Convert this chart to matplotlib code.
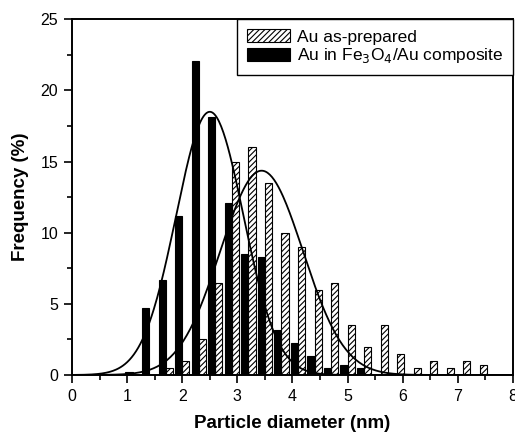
import numpy as np
import matplotlib.pyplot as plt
from matplotlib.ticker import MultipleLocator

plt.rcParams['font.family'] = ['Liberation Sans', 'DejaVu Sans']
plt.rcParams['hatch.linewidth'] = 0.8

# bin edges shared by both histograms (black bar sits left of it, hatched right)
bin_pos = [1.1, 1.4, 1.7, 2.0, 2.3, 2.6, 2.9, 3.2, 3.5, 3.8, 4.1,
           4.4, 4.7, 5.0, 5.3, 5.6, 5.9, 6.2, 6.5, 6.8, 7.1, 7.4]
freq_composite = [0.2, 4.7, 6.7, 11.2, 22.1, 18.1, 12.1, 8.5, 8.3, 3.15, 2.27,
                  1.36, 0.49, 0.68, 0.49, 0, 0, 0, 0, 0, 0, 0]
freq_prepared = [0, 0, 0.5, 1.0, 2.5, 6.5, 15.0, 16.0, 13.5, 10.0, 9.0,
                 6.0, 6.5, 3.5, 2.0, 3.5, 1.5, 0.5, 1.0, 0.5, 1.0, 0.7]

# gaussian fits (center, sigma, amplitude)
fit_composite = (2.50, 0.61, 18.5)
fit_prepared = (3.44, 0.75, 14.36)

def gauss(x, fit):
    xc, w, a = fit
    return a * np.exp(-(x - xc) ** 2 / (2 * w ** 2))

fig = plt.figure(figsize=(5.15, 4.37), dpi=100)
ax = fig.add_axes([0.1398, 0.1419, 0.996 - 0.1398, 0.9558 - 0.1419])

bw = 0.13
h1 = ax.bar(bin_pos, freq_prepared, width=bw, align='edge', color='white',
            edgecolor='black', hatch='//////', linewidth=0.8, label='Au as-prepared')
h2 = ax.bar(bin_pos, freq_composite, width=-bw, align='edge', color='black',
            edgecolor='black', linewidth=0.8, label='Au in Fe$_3$O$_4$/Au composite')

xs = np.linspace(0, 8, 400)
ax.plot(xs, gauss(xs, fit_composite), color='black', lw=1.3)
ax.plot(xs, gauss(xs, fit_prepared), color='black', lw=1.3)

ax.set_xlim(0, 8)
ax.set_ylim(0, 25)
ax.xaxis.set_major_locator(MultipleLocator(1))
ax.xaxis.set_minor_locator(MultipleLocator(0.5))
ax.yaxis.set_major_locator(MultipleLocator(5))
ax.yaxis.set_minor_locator(MultipleLocator(2.5))
ax.tick_params(which='both', direction='out', top=False, right=False, width=1.2)
ax.tick_params(which='major', length=6, labelsize=11.5, pad=4)
ax.tick_params(which='minor', length=3.5)
for s in ax.spines.values():
    s.set_linewidth(1.4)

ax.set_xlabel('Particle diameter (nm)', fontsize=13.5, fontweight='bold', labelpad=8)
ax.set_ylabel('Frequency (%)', fontsize=13.5, fontweight='bold', labelpad=8)

leg = ax.legend(handles=[h1, h2], loc='upper right', borderaxespad=0, fontsize=12.5,
                fancybox=False, framealpha=1, edgecolor='black',
                handlelength=2.5, handleheight=0.8, labelspacing=0.1,
                handletextpad=0.4, borderpad=0.55)
leg.get_frame().set_linewidth(1.0)

fig.savefig('out.png', dpi=100)
